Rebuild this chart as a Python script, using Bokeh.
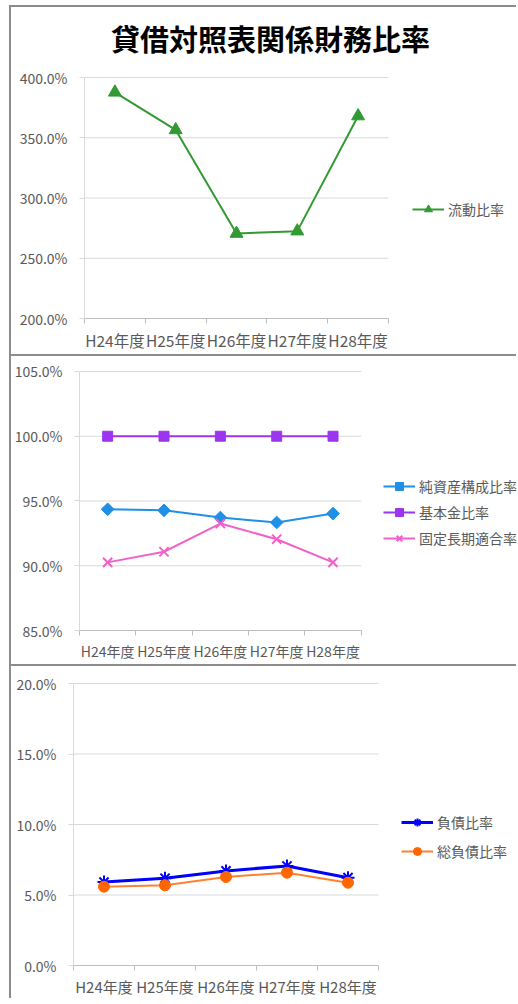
from bokeh.plotting import figure
from bokeh.models import (FixedTicker, PrintfTickFormatter, Legend, LegendItem,
                          Range1d, Label)
from bokeh.embed import file_html
from bokeh.resources import INLINE

# ---------------- data ----------------
categories = ["H24年度", "H25年度", "H26年度", "H27年度", "H28年度"]
title_text = "貸借対照表関係財務比率"

current_ratio = [387.7, 356.5, 270.5, 272.5, 368.0]          # 流動比率
net_asset_ratio = [94.36, 94.28, 93.72, 93.34, 94.03]        # 純資産構成比率
basic_fund_ratio = [100.0, 100.0, 100.0, 100.0, 100.0]       # 基本金比率
fixed_long_ratio = [90.26, 91.08, 93.26, 92.05, 90.26]       # 固定長期適合率
debt_ratio = [5.92, 6.19, 6.71, 7.06, 6.23]                  # 負債比率
total_debt_ratio = [5.59, 5.69, 6.28, 6.58, 5.87]            # 総負債比率

y1_ticks = [200, 250, 300, 350, 400]
y2_ticks = [85, 90, 95, 100, 105]
y3_ticks = [0, 5, 10, 15, 20]

FONT = "Noto Sans CJK JP"
TXT = "#595959"
GRID = "#d9d9d9"
AXIS = "#bfbfbf"

n = len(categories)
xs = [i + 0.5 for i in range(n)]


def base(h, yticks, x_end, y_end, mbl, mbt, mbb, xfs):
    # frame extends to the right edge so that the legend is not clipped;
    # axis line and grid lines are limited to the data area.
    p = figure(width=507, height=h,
               x_range=Range1d(0, x_end),
               y_range=Range1d(yticks[0], y_end),
               output_backend="svg", toolbar_location=None,
               min_border_left=mbl, min_border_right=0,
               min_border_top=mbt, min_border_bottom=mbb)
    p.outline_line_color = None
    p.xgrid.visible = False
    p.ygrid.visible = False
    p.segment(x0=[0] * (len(yticks) - 1), x1=[n] * (len(yticks) - 1),
              y0=yticks[1:], y1=yticks[1:], line_color=GRID, line_width=1,
              level="underlay")

    ya = p.yaxis[0]
    ya.bounds = (yticks[0], yticks[-1])
    ya.ticker = FixedTicker(ticks=yticks, minor_ticks=[])
    ya.formatter = PrintfTickFormatter(format="%.1f%%")
    ya.axis_line_color = GRID
    ya.major_tick_line_color = GRID
    ya.major_tick_out = 5
    ya.major_tick_in = 0
    ya.minor_tick_line_color = None
    ya.major_label_text_font = FONT
    ya.major_label_text_font_size = "14px"
    ya.major_label_text_color = TXT
    ya.major_label_standoff = 12

    xa = p.xaxis[0]
    xa.bounds = (0, n)
    xa.ticker = FixedTicker(ticks=xs, minor_ticks=list(range(n + 1)))
    xa.major_label_overrides = {x: c for x, c in zip(xs, categories)}
    xa.axis_line_color = AXIS
    xa.major_tick_out = 0
    xa.major_tick_in = 0
    xa.minor_tick_out = 5
    xa.minor_tick_in = 0
    xa.minor_tick_line_color = AXIS
    xa.major_label_text_font = FONT
    xa.major_label_text_font_size = xfs
    xa.major_label_text_color = TXT
    xa.major_label_standoff = 5
    p.styles = {"border-left": "2px solid #8c8c8c", "border-top": "2px solid #8c8c8c"}
    return p


def add_legend(p, items, vx, vy, spacing):
    lg = Legend(items=items, location=(vx, vy), orientation="vertical",
                padding=0, margin=0, spacing=spacing,
                glyph_width=32, glyph_height=20, label_height=20,
                label_standoff=4, background_fill_alpha=0,
                border_line_color=None,
                label_text_font=FONT, label_text_font_size="14px",
                label_text_color=TXT)
    p.add_layout(lg)


# ---------------- panel 1 ----------------
p1 = base(349, y1_ticks, 7.138, 458.1, 73, 0, 38, "15.5px")
p1.add_layout(Label(x=3.06, y=432.6, text=title_text, text_font=FONT,
                    text_font_size="29px", text_font_style="bold",
                    text_color="#000000", text_align="center",
                    text_baseline="middle"))
l1 = p1.line(xs, current_ratio, line_color="#339933", line_width=2)
m1 = p1.scatter(xs, current_ratio, marker="triangle", size=13,
                fill_color="#339933", line_color="#339933")
add_legend(p1, [LegendItem(label="流動比率", renderers=[l1, m1])], 328, 99, 6)
p1.margin = (5, 0, 0, 9)

# ---------------- panel 2 ----------------
p2 = base(310, y2_ticks, 7.792, 105.154, 66, 13, 36, "14px")
l2a = p2.line(xs, net_asset_ratio, line_color="#1F90E8", line_width=2)
m2a = p2.scatter(xs, net_asset_ratio, marker="square", angle=0.785398, size=9,
                 fill_color="#1F90E8", line_color="#1F90E8")
l2b = p2.line(xs, basic_fund_ratio, line_color="#9B35F0", line_width=2)
m2b = p2.scatter(xs, basic_fund_ratio, marker="square", size=10,
                 fill_color="#9B35F0", line_color="#9B35F0")
l2c = p2.line(xs, fixed_long_ratio, line_color="#F062C8", line_width=2)
m2c = p2.scatter(xs, fixed_long_ratio, marker="x", size=13,
                 line_color="#F062C8", line_width=2)
add_legend(p2, [LegendItem(label="純資産構成比率", renderers=[l2a, m2a]),
                LegendItem(label="基本金比率", renderers=[l2b, m2b]),
                LegendItem(label="固定長期適合率", renderers=[l2c, m2c])],
           304, 82, 6)
p2.margin = (0, 0, 0, 9)

# ---------------- panel 3 ----------------
p3 = base(334, y3_ticks, 7.295, 20.142, 62, 15, 35, "15px")
l3a = p3.line(xs, debt_ratio, line_color="#0000FF", line_width=3)
m3a = p3.scatter(xs, debt_ratio, marker="asterisk", size=13,
                 line_color="#0000FF", line_width=2)
l3b = p3.line(xs, total_debt_ratio, line_color="#FF8033", line_width=2)
m3b = p3.scatter(xs, total_debt_ratio, marker="circle", size=11,
                 fill_color="#FF6600", line_color="#FF6600")
add_legend(p3, [LegendItem(label="負債比率", renderers=[l3a, m3a]),
                LegendItem(label="総負債比率", renderers=[l3b, m3b])],
           328, 104, 9)
p3.margin = (0, 0, 0, 9)

open("out.html", "w").write(file_html([p1, p2, p3], INLINE))
